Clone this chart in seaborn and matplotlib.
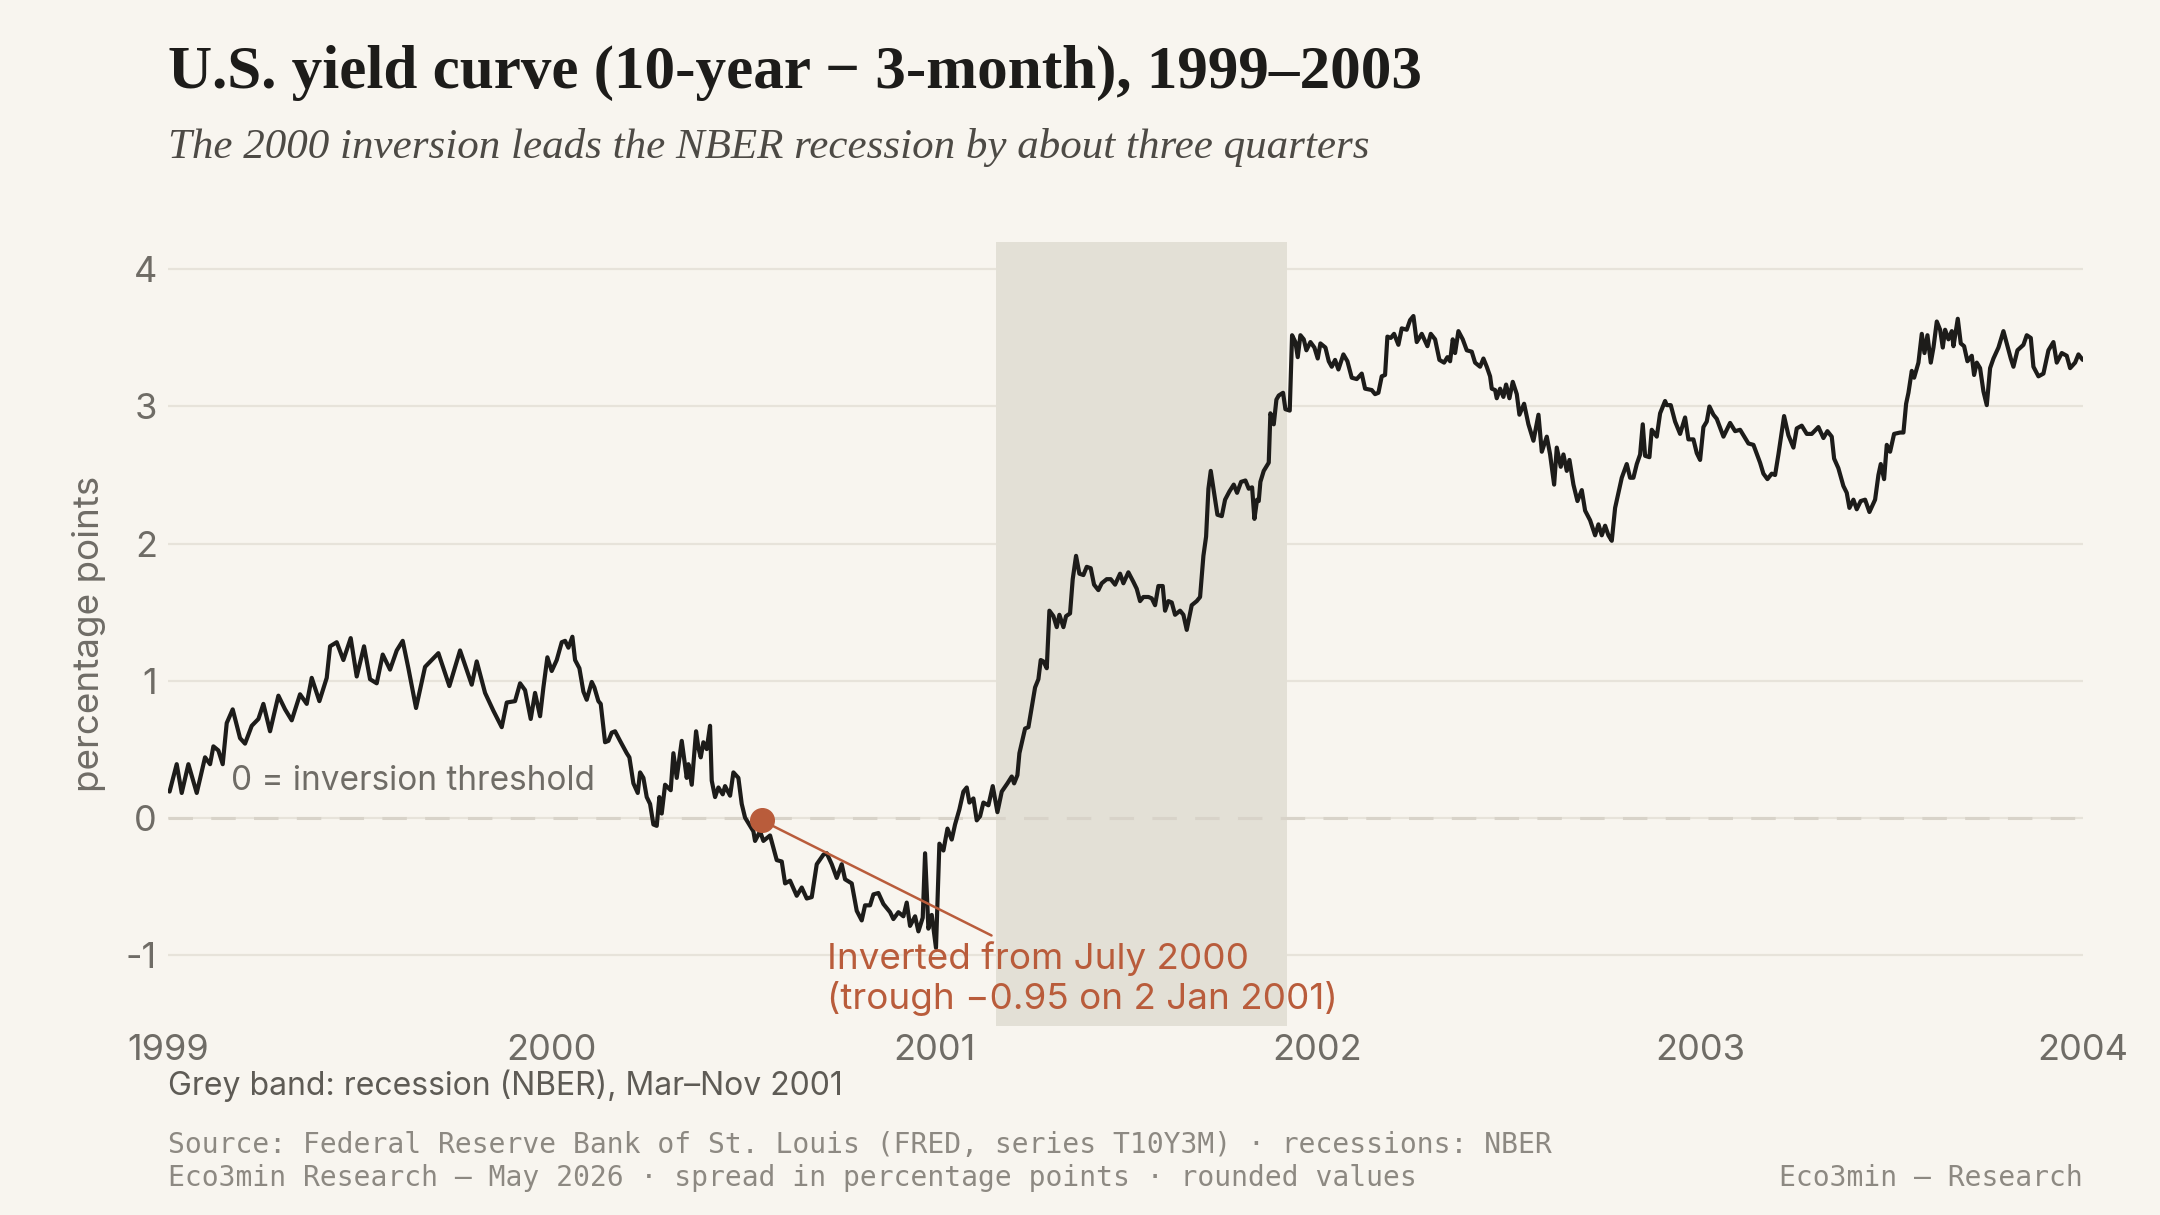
import matplotlib
matplotlib.use("Agg")
import matplotlib.pyplot as plt
import numpy as np
import pandas as pd
import seaborn as sns

# spread 10y - 3m (x = decimal year)
t_1999 = [1999.004, 1999.0226, 1999.0357, 1999.0531, 1999.0749, 1999.0966, 1999.1097, 1999.1184, 1999.1314, 1999.1427,
          1999.1532, 1999.1688, 1999.188, 1999.201, 1999.2185, 1999.2359, 1999.2489, 1999.2663, 1999.2881, 1999.3055,
          1999.3229, 1999.3446, 1999.3621, 1999.3751, 1999.3951, 1999.4143, 1999.423, 1999.4404, 1999.4578, 1999.4769,
          1999.4926, 1999.5117, 1999.5274, 1999.5448, 1999.5605, 1999.5796, 1999.5971, 1999.6127, 1999.6275, 1999.6475,
          1999.671, 1999.6884, 1999.7058, 1999.7345, 1999.7624, 1999.7929, 1999.8059, 1999.8277, 1999.8494, 1999.8712,
          1999.8843, 1999.906, 1999.9191, 1999.9321, 1999.9469, 1999.9582, 1999.9713]
v_1999 = [0.19, 0.39, 0.18, 0.39, 0.18, 0.44, 0.39, 0.52, 0.49, 0.39,
          0.69, 0.79, 0.58, 0.54, 0.67, 0.72, 0.83, 0.63, 0.89, 0.79,
          0.71, 0.90, 0.83, 1.02, 0.85, 1.02, 1.25, 1.28, 1.15, 1.31,
          1.03, 1.25, 1.01, 0.98, 1.19, 1.08, 1.22, 1.29, 1.09, 0.80,
          1.10, 1.15, 1.20, 0.96, 1.22, 0.97, 1.14, 0.91, 0.78, 0.66,
          0.84, 0.85, 0.98, 0.93, 0.72, 0.91, 0.74]

t_2000 = [1999.98, 1999.9904, 2000.0017, 2000.0148, 2000.0279, 2000.0366, 2000.0453, 2000.0557, 2000.0627, 2000.074,
          2000.0844, 2000.0931, 2000.1062, 2000.1131, 2000.1236, 2000.1297, 2000.141, 2000.1497, 2000.1584, 2000.1671,
          2000.1802, 2000.1976, 2000.2045, 2000.215, 2000.2263, 2000.2324, 2000.2411, 2000.2498, 2000.2585, 2000.2672,
          2000.2759, 2000.2828, 2000.2889, 2000.2977, 2000.3124, 2000.3194, 2000.3281, 2000.3412, 2000.3542, 2000.3586,
          2000.3673, 2000.3786, 2000.3847, 2000.3908, 2000.3977, 2000.4064, 2000.4151, 2000.4195, 2000.4282, 2000.4369,
          2000.4482, 2000.4543, 2000.4674, 2000.4761, 2000.4891, 2000.4978, 2000.5065, 2000.5283, 2000.5326, 2000.5457,
          2000.5544, 2000.5718, 2000.5892, 2000.6023, 2000.611, 2000.624, 2000.6414, 2000.6545, 2000.6676, 2000.6806,
          2000.6937, 2000.7111, 2000.7198, 2000.7328, 2000.7459, 2000.7589, 2000.7676, 2000.785, 2000.7981, 2000.8111,
          2000.8198, 2000.8329, 2000.8416, 2000.8546, 2000.8677, 2000.8851, 2000.8938, 2000.9069, 2000.9199, 2000.9286,
          2000.9373, 2000.9504, 2000.9591, 2000.9704, 2000.9765, 2000.9852, 2000.9939]
v_2000 = [0.95, 1.17, 1.07, 1.15, 1.28, 1.29, 1.24, 1.32, 1.15, 1.09,
          0.92, 0.86, 0.99, 0.95, 0.85, 0.83, 0.55, 0.56, 0.62, 0.63,
          0.56, 0.47, 0.44, 0.25, 0.18, 0.33, 0.29, 0.15, 0.10, -0.05,
          -0.06, 0.15, 0.03, 0.24, 0.20, 0.47, 0.29, 0.56, 0.29, 0.39,
          0.24, 0.63, 0.51, 0.44, 0.55, 0.50, 0.67, 0.27, 0.15, 0.22,
          0.17, 0.23, 0.16, 0.33, 0.29, 0.10, 0.00, -0.10, -0.17, -0.10,
          -0.17, -0.13, -0.31, -0.32, -0.48, -0.46, -0.57, -0.51, -0.59, -0.58,
          -0.34, -0.27, -0.26, -0.34, -0.44, -0.34, -0.45, -0.48, -0.68, -0.75,
          -0.64, -0.64, -0.56, -0.55, -0.63, -0.69, -0.74, -0.69, -0.72, -0.62,
          -0.79, -0.72, -0.83, -0.73, -0.26, -0.81, -0.71]

t_2001 = [2001.005, 2001.0139, 2001.0244, 2001.035, 2001.0461, 2001.0548, 2001.0661, 2001.0766, 2001.0853, 2001.0923,
          2001.1027, 2001.1114, 2001.1201, 2001.1288, 2001.1419, 2001.1532, 2001.1654, 2001.1767, 2001.1915, 2001.2028,
          2001.209, 2001.2176, 2001.2228, 2001.2376, 2001.2463, 2001.2637, 2001.2724, 2001.2785, 2001.2855, 2001.2942,
          2001.3011, 2001.3116, 2001.3203, 2001.3272, 2001.3377, 2001.3446, 2001.355, 2001.362, 2001.3707, 2001.3794,
          2001.3899, 2001.3986, 2001.409, 2001.4177, 2001.429, 2001.4377, 2001.4508, 2001.4612, 2001.4726, 2001.4856,
          2001.4943, 2001.5073, 2001.5204, 2001.5291, 2001.5378, 2001.5465, 2001.5596, 2001.5683, 2001.577, 2001.5857,
          2001.597, 2001.6031, 2001.6118, 2001.6205, 2001.6292, 2001.6423, 2001.651, 2001.6597, 2001.6727, 2001.6858,
          2001.6945, 2001.7032, 2001.7102, 2001.7163, 2001.7224, 2001.7294, 2001.7398, 2001.7512, 2001.7598, 2001.7711,
          2001.7824, 2001.7911, 2001.8016, 2001.8129, 2001.8216, 2001.8303, 2001.8364, 2001.8433, 2001.8477, 2001.852,
          2001.8607, 2001.8738, 2001.8781, 2001.8869, 2001.8938, 2001.8999, 2001.9112, 2001.9173, 2001.9286, 2001.9347,
          2001.9434, 2001.9495, 2001.9565, 2001.9652, 2001.9721, 2001.9826, 2001.993, 2002.0017, 2002.0087, 2002.0218,
          2002.0305]
v_2001 = [-0.95, -0.19, -0.24, -0.08, -0.16, -0.05, 0.06, 0.19, 0.22, 0.11,
          0.14, -0.02, 0.01, 0.11, 0.09, 0.23, 0.04, 0.19, 0.25, 0.30,
          0.25, 0.31, 0.47, 0.65, 0.66, 0.95, 1.01, 1.15, 1.14, 1.09,
          1.51, 1.47, 1.39, 1.48, 1.39, 1.47, 1.49, 1.74, 1.91, 1.78,
          1.77, 1.83, 1.82, 1.70, 1.66, 1.71, 1.74, 1.74, 1.70, 1.78,
          1.71, 1.79, 1.72, 1.67, 1.58, 1.61, 1.61, 1.60, 1.55, 1.69,
          1.69, 1.51, 1.58, 1.57, 1.48, 1.51, 1.48, 1.37, 1.55, 1.58,
          1.61, 1.91, 2.05, 2.40, 2.53, 2.40, 2.21, 2.20, 2.32, 2.38,
          2.43, 2.37, 2.45, 2.46, 2.40, 2.41, 2.18, 2.32, 2.31, 2.45,
          2.53, 2.59, 2.95, 2.87, 3.05, 3.08, 3.10, 2.98, 2.97, 3.52,
          3.47, 3.36, 3.52, 3.49, 3.41, 3.47, 3.43, 3.35, 3.46, 3.43,
          3.33]

t_2002 = [2002.0383, 2002.047, 2002.0557, 2002.0687, 2002.0792, 2002.0905, 2002.1036, 2002.1166, 2002.1253, 2002.1427,
          2002.1514, 2002.1601, 2002.1688, 2002.1775, 2002.1836, 2002.1923, 2002.201, 2002.2123, 2002.221, 2002.2341,
          2002.2428, 2002.2515, 2002.2602, 2002.2733, 2002.2881, 2002.2968, 2002.3081, 2002.3194, 2002.3316, 2002.3403,
          2002.3473, 2002.3542, 2002.3603, 2002.369, 2002.3803, 2002.3908, 2002.4038, 2002.4125, 2002.4256, 2002.4343,
          2002.443, 2002.4517, 2002.4561, 2002.4648, 2002.4691, 2002.4778, 2002.4865, 2002.4935, 2002.5022, 2002.5109,
          2002.5214, 2002.5283, 2002.5405, 2002.5518, 2002.5649, 2002.578, 2002.5867, 2002.5997, 2002.6084, 2002.6189,
          2002.6258, 2002.6362, 2002.6432, 2002.6519, 2002.6589, 2002.6693, 2002.6798, 2002.6911, 2002.6998, 2002.7128,
          2002.7259, 2002.7346, 2002.7433, 2002.752, 2002.7607, 2002.7694, 2002.7781, 2002.7955, 2002.8085, 2002.8172,
          2002.8259, 2002.8347, 2002.8434, 2002.8503, 2002.8564, 2002.8677, 2002.8738, 2002.8869, 2002.8956, 2002.9086,
          2002.913, 2002.9234, 2002.9347, 2002.9478, 2002.9608, 2002.9695, 2002.9826, 2002.9913, 2003.0]
v_2002 = [3.29, 3.34, 3.27, 3.38, 3.33, 3.21, 3.20, 3.24, 3.13, 3.12,
          3.09, 3.10, 3.22, 3.23, 3.51, 3.50, 3.53, 3.45, 3.57, 3.56,
          3.63, 3.66, 3.47, 3.53, 3.44, 3.53, 3.49, 3.34, 3.32, 3.36,
          3.33, 3.49, 3.39, 3.55, 3.49, 3.41, 3.40, 3.32, 3.29, 3.35,
          3.29, 3.22, 3.13, 3.12, 3.06, 3.13, 3.07, 3.16, 3.06, 3.18,
          3.09, 2.94, 3.02, 2.87, 2.75, 2.94, 2.67, 2.78, 2.65, 2.43,
          2.70, 2.56, 2.65, 2.53, 2.61, 2.43, 2.31, 2.39, 2.24, 2.17,
          2.06, 2.14, 2.06, 2.13, 2.06, 2.02, 2.26, 2.48, 2.58, 2.48,
          2.48, 2.58, 2.65, 2.87, 2.64, 2.63, 2.83, 2.78, 2.95, 3.04,
          3.01, 3.01, 2.89, 2.80, 2.92, 2.76, 2.76, 2.66, 2.61]

t_2003 = [2003.0087, 2003.0174, 2003.0244, 2003.0348, 2003.0435, 2003.061, 2003.0783, 2003.0914, 2003.1045, 2003.1131,
          2003.1262, 2003.1393, 2003.1566, 2003.1653, 2003.1758, 2003.1871, 2003.1958, 2003.2045, 2003.2193, 2003.2306,
          2003.2437, 2003.2524, 2003.2654, 2003.2785, 2003.2915, 2003.3089, 2003.322, 2003.3324, 2003.3437, 2003.3499,
          2003.361, 2003.3741, 2003.3829, 2003.3899, 2003.4003, 2003.409, 2003.4194, 2003.4308, 2003.4421, 2003.4569,
          2003.4656, 2003.4717, 2003.4804, 2003.4874, 2003.4961, 2003.5065, 2003.5222, 2003.5309, 2003.5379, 2003.544,
          2003.5527, 2003.5588, 2003.5701, 2003.5788, 2003.5858, 2003.5936, 2003.6023, 2003.6093, 2003.618, 2003.6267,
          2003.6336, 2003.6397, 2003.6484, 2003.6571, 2003.6615, 2003.6728, 2003.6806, 2003.6893, 2003.698, 2003.7093,
          2003.7154, 2003.7224, 2003.731, 2003.7398, 2003.7485, 2003.7572, 2003.7659, 2003.779, 2003.792, 2003.8007,
          2003.8112, 2003.8181, 2003.8286, 2003.8442, 2003.8529, 2003.8634, 2003.8703, 2003.8834, 2003.8964, 2003.9095,
          2003.9225, 2003.9312, 2003.9443, 2003.9573, 2003.9661, 2003.9791, 2003.9878, 2003.999]
v_2003 = [2.85, 2.89, 3.00, 2.94, 2.91, 2.78, 2.88, 2.82, 2.83, 2.79,
          2.73, 2.72, 2.59, 2.51, 2.47, 2.51, 2.50, 2.65, 2.93, 2.79,
          2.70, 2.84, 2.86, 2.80, 2.80, 2.85, 2.77, 2.82, 2.78, 2.62,
          2.55, 2.42, 2.37, 2.26, 2.32, 2.25, 2.31, 2.32, 2.23, 2.32,
          2.50, 2.58, 2.47, 2.72, 2.67, 2.80, 2.81, 2.81, 3.02, 3.10,
          3.26, 3.21, 3.32, 3.53, 3.39, 3.52, 3.32, 3.43, 3.62, 3.56,
          3.43, 3.56, 3.49, 3.55, 3.44, 3.64, 3.46, 3.44, 3.33, 3.37,
          3.23, 3.32, 3.28, 3.11, 3.01, 3.28, 3.35, 3.43, 3.55, 3.46,
          3.35, 3.29, 3.41, 3.45, 3.52, 3.50, 3.29, 3.22, 3.24, 3.41,
          3.47, 3.32, 3.39, 3.37, 3.28, 3.32, 3.38, 3.34]

recession = (2001.162, 2001.921)         # Mar - Nov 2001
inversion_start = (2000.55, -0.02)       # July 2000 marker
callout_end = (2001.15, -0.86)
year_ticks = [1999, 2000, 2001, 2002, 2003, 2004]
y_ticks = [-1, 0, 1, 2, 3, 4]

df = pd.DataFrame({
    "t": t_1999 + t_2000 + t_2001 + t_2002 + t_2003,
    "spread": v_1999 + v_2000 + v_2001 + v_2002 + v_2003,
})

BG = "#f8f5ef"
INK = "#1d1c1a"
ORANGE = "#b95c3b"
GREY = "#6f6c66"

sns.set_theme(style="white")
plt.rcParams["font.family"] = ["Inter", "DejaVu Sans"]

fig = plt.figure(figsize=(21.6, 12.15), dpi=100, facecolor=BG)
ax = fig.add_axes([0.0778, 0.1556, 0.8866, 0.6452], facecolor=BG)

ax.axvspan(*recession, color="#e3e0d6", lw=0, zorder=1)
ax.axhline(0, color="#d8d3c9", lw=2.2, ls=(0, (8, 6)), zorder=2)

sns.lineplot(data=df, x="t", y="spread", color=INK, linewidth=3.0, ax=ax, zorder=3)

# callout
ax.plot([inversion_start[0], callout_end[0]], [inversion_start[1], callout_end[1]],
        color=ORANGE, lw=1.8, zorder=4)
ax.plot(*inversion_start, "o", color=ORANGE, ms=17, zorder=5)
ax.text(2000.72, -0.9, "Inverted from July 2000\n(trough \u22120.95 on 2 Jan 2001)",
        color=ORANGE, fontsize=26.5, va="top", ha="left", linespacing=1.2, zorder=5)
ax.text(1999.164, 0.20, "0 = inversion threshold", color=GREY, fontsize=24,
        va="baseline", ha="left", zorder=5)

ax.set_xlim(1999, 2004)
ax.set_ylim(-1.52, 4.2)
ax.set_xticks(year_ticks)
ax.set_xticklabels([str(y) for y in year_ticks])
ax.set_yticks(y_ticks)
ax.set_yticklabels([str(y) for y in y_ticks])
ax.tick_params(axis="both", length=0, labelsize=26, labelcolor=GREY)
ax.tick_params(axis="x", pad=6)
ax.tick_params(axis="y", pad=8)
ax.set_axisbelow(True)
ax.yaxis.grid(True, color="#e7e3da", lw=1.6)
ax.xaxis.grid(False)
for s in ax.spines.values():
    s.set_visible(False)
ax.set_xlabel("")
ax.set_ylabel("percentage points", fontsize=26.5, color=GREY, labelpad=14)

fig.text(0.0778, 0.928, "U.S. yield curve (10-year \u2212 3-month), 1999\u20132003",
         family=["Liberation Serif", "DejaVu Serif"], fontweight="bold", fontsize=44,
         color=INK, va="baseline", ha="left")
fig.text(0.0778, 0.870, "The 2000 inversion leads the NBER recession by about three quarters",
         family=["Liberation Serif", "DejaVu Serif"], style="italic", fontsize=31,
         color="#4d4a45", va="baseline", ha="left")

fig.text(0.0778, 0.0988, "Grey band: recession (NBER), Mar\u2013Nov 2001",
         fontsize=23, color="#5e5b55", va="baseline", ha="left")

mono = ["DejaVu Sans Mono"]
fig.text(0.0778, 0.051,
         "Source: Federal Reserve Bank of St. Louis (FRED, series T10Y3M) \u00b7 recessions: NBER",
         family=mono, fontsize=20.2, color="#8d8982", va="baseline", ha="left")
fig.text(0.0778, 0.024,
         "Eco3min Research \u2014 May 2026 \u00b7 spread in percentage points \u00b7 rounded values",
         family=mono, fontsize=20.2, color="#8d8982", va="baseline", ha="left")
fig.text(0.9644, 0.024, "Eco3min \u2014 Research",
         family=mono, fontsize=20.2, color="#8d8982", va="baseline", ha="right")

fig.savefig("out.png", dpi=100, facecolor=BG)
